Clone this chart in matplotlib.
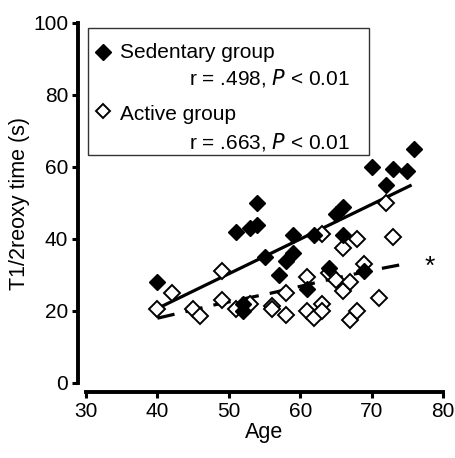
import numpy as np
import matplotlib
matplotlib.use("Agg")
import matplotlib.pyplot as plt
from matplotlib.lines import Line2D
from matplotlib.patches import Rectangle
from matplotlib.transforms import IdentityTransform

plt.rcParams['font.family'] = ['Liberation Sans', 'DejaVu Sans']

# Sedentary group (filled diamonds)
sed_age = [40, 54, 51, 53, 54, 55, 59, 59, 58, 57, 62, 66, 65, 66, 64, 61, 52, 52,
           69, 72, 70, 73, 75, 76]
sed_t = [28, 50, 42, 43, 44, 35, 41, 36, 34, 30, 41, 41, 47, 49, 32, 26, 22, 20,
         31, 55, 60, 59.5, 59, 65]

# Active group (open diamonds)
act_age = [40, 42, 45, 46, 49, 49, 51, 53, 56, 56, 58, 58, 61, 61, 62, 63, 63, 63,
           64, 65, 66, 66, 67, 67, 68, 68, 69, 71, 72, 73]
act_t = [20.5, 25, 20.5, 18.5, 31, 23, 20.5, 22, 21.5, 20.5, 25, 19, 29.5, 20, 18, 22, 20, 41.5,
         30.5, 28.5, 37.5, 25.5, 28, 17.5, 20, 40, 33, 23.5, 50, 40.5]

# regression lines
sed_fit_x = [40, 75.6]
sed_fit_y = [20.7, 55]
act_fit_x = [40, 48, 56, 64, 70, 75]
act_fit_y = [18, 21.7, 25, 28.7, 31.3, 33.2]

fig = plt.figure(figsize=(4.55, 4.58), dpi=100)
ax = fig.add_axes([86 / 455, 75 / 458, 357 / 455, 360 / 458])

ax.plot(sed_fit_x, sed_fit_y, color='black', lw=2.3, solid_capstyle='butt', zorder=2)
ax.plot(act_fit_x, act_fit_y, color='black', lw=2.3, dashes=(5.5, 3.5), zorder=2)

ax.plot(act_age, act_t, 'D', ms=7.8, mfc='white', mec='black', mew=1.4, ls='none', zorder=3)
ax.plot(sed_age, sed_t, 'D', ms=8.2, mfc='black', mec='black', mew=1.0, ls='none', zorder=4)

ax.text(78.2, 32.4, '*', fontsize=19, ha='center', va='center')

ax.set_xlim(30, 80)
ax.set_ylim(0, 100)
ax.set_xticks([30, 40, 50, 60, 70, 80])
ax.set_yticks([0, 20, 40, 60, 80, 100])

for side in ['top', 'right']:
    ax.spines[side].set_visible(False)
ax.spines['left'].set_position(('outward', 5.8))
ax.spines['bottom'].set_position(('outward', 6.5))
ax.spines['left'].set_linewidth(2.8)
ax.spines['bottom'].set_linewidth(2.8)
ax.tick_params(width=2.2, length=4, labelsize=15, pad=3)

ax.set_xlabel('Age', fontsize=15.5, labelpad=1)
ax.set_ylabel('T1/2reoxy time (s)', fontsize=15.5, labelpad=2)

# legend box, drawn in pixel coordinates
fig.add_artist(Rectangle((88, 458 - 155), 281, 127, transform=IdentityTransform(),
                         fill=True, facecolor='white', edgecolor='#333333', lw=1.0, zorder=5))
fig.add_artist(Line2D([103], [458 - 52], transform=IdentityTransform(), marker='D', ls='none',
                      ms=8.0, mfc='black', mec='black', zorder=6))
fig.add_artist(Line2D([103], [458 - 111], transform=IdentityTransform(), marker='D', ls='none',
                      ms=7.6, mfc='white', mec='black', mew=1.4, zorder=6))
legend_text = [
    (120, 52, 'Sedentary group', 'left'),
    (350, 78, 'r = .498, $\\it{P}$ < 0.01', 'right'),
    (120, 115, 'Active group', 'left'),
    (350, 142, 'r = .663, $\\it{P}$ < 0.01', 'right'),
]
for x, y, s, ha in legend_text:
    fig.text(x / 455, 1 - y / 458, s, fontsize=15, ha=ha, va='center', zorder=7)

fig.savefig('out.png', dpi=100)
